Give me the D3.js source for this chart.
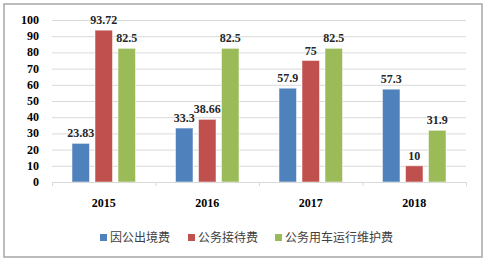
<!DOCTYPE html>
<html lang="zh">
<head>
  <meta charset="UTF-8">
  <title>三公经费</title>
  <style>
    body { margin: 0; background: #fff; }
  </style>
</head>
<body>
  <svg id="svg" width="486" height="262"></svg>

  <script src="https://d3js.org/d3.v7.min.js"></script>
  <script>
    const years = ['2015', '2016', '2017', '2018']
    const seriesNames = ['因公出境费', '公务接待费', '公务用车运行维护费']
    const travel = [23.83, 33.3, 57.9, 57.3]
    const reception = [93.72, 38.66, 75, 10]
    const vehicles = [82.5, 82.5, 82.5, 31.9]
    const yTicks = [0, 10, 20, 30, 40, 50, 60, 70, 80, 90, 100]
    const colors = ['#4F81BD', '#C0504D', '#9BBB59']

    const series = [travel, reception, vehicles]
    const serif = '"Liberation Serif", "Times New Roman", serif'

    const svg = d3.select('#svg')

    // outer frame
    svg.append('rect')
      .attr('x', 4).attr('y', 4)
      .attr('width', 478).attr('height', 253)
      .attr('fill', '#fff')
      .attr('stroke', '#a6a6a6')
      .attr('stroke-width', 1.5)

    const plotLeft = 52, plotRight = 466, plotTop = 20, plotBottom = 182

    const x = d3.scaleBand()
      .domain(years)
      .range([plotLeft, plotRight])
      .paddingInner(0)
      .paddingOuter(0)
    const inner = d3.scaleBand()
      .domain(d3.range(seriesNames.length))
      .range([20, x.bandwidth() - 20])
      .paddingInner(0.24)
    const y = d3.scaleLinear()
      .domain([0, 100])
      .range([plotBottom, plotTop])

    // grid
    svg.append('g')
      .selectAll('line')
      .data(yTicks.filter(d => d > 0))
      .enter()
      .append('line')
      .attr('x1', plotLeft).attr('x2', plotRight)
      .attr('y1', d => y(d) + 0.5).attr('y2', d => y(d) + 0.5)
      .attr('stroke', '#d9d9d9')
      .attr('stroke-width', 1)

    // y labels
    svg.append('g')
      .selectAll('text')
      .data(yTicks)
      .enter()
      .append('text')
      .attr('x', 39)
      .attr('y', d => y(d) + 4)
      .attr('text-anchor', 'end')
      .style('font-family', serif)
      .style('font-weight', 'bold')
      .style('font-size', '12px')
      .text(d => d)

    // bars
    const groups = svg.append('g')
      .selectAll('g')
      .data(years)
      .enter()
      .append('g')
      .attr('transform', d => `translate(${x(d)},0)`)

    groups.selectAll('rect')
      .data((d, i) => series.map((s, k) => ({ k, v: s[i] })))
      .enter()
      .append('rect')
      .attr('x', d => inner(d.k))
      .attr('y', d => y(d.v))
      .attr('width', inner.bandwidth())
      .attr('height', d => plotBottom - y(d.v))
      .attr('fill', d => colors[d.k])
      .attr('stroke', '#fff')
      .attr('stroke-opacity', 0.5)
      .attr('stroke-width', 1)

    groups.selectAll('text')
      .data((d, i) => series.map((s, k) => ({ k, v: s[i] })))
      .enter()
      .append('text')
      .attr('x', d => inner(d.k) + inner.bandwidth() / 2)
      .attr('y', d => y(d.v) - 6)
      .attr('text-anchor', 'middle')
      .style('font-family', serif)
      .style('font-weight', 'bold')
      .style('font-size', '12px')
      .style('fill', '#262626')
      .text(d => d.v)

    // x axis
    svg.append('line')
      .attr('x1', plotLeft).attr('x2', plotRight)
      .attr('y1', plotBottom + 0.5).attr('y2', plotBottom + 0.5)
      .attr('stroke', '#d9d9d9')
    svg.append('g')
      .selectAll('line')
      .data(years.concat(['end']))
      .enter()
      .append('line')
      .attr('x1', (d, i) => plotLeft + i * x.step() + 0.5)
      .attr('x2', (d, i) => plotLeft + i * x.step() + 0.5)
      .attr('y1', plotBottom).attr('y2', plotBottom + 4)
      .attr('stroke', '#d9d9d9')

    svg.append('g')
      .selectAll('text')
      .data(years)
      .enter()
      .append('text')
      .attr('x', d => x(d) + x.bandwidth() / 2)
      .attr('y', 207)
      .attr('text-anchor', 'middle')
      .style('font-family', serif)
      .style('font-weight', 'bold')
      .style('font-size', '12px')
      .text(d => d)

    // legend
    const legendX = [100, 188, 275]
    const legend = svg.append('g')
      .selectAll('g')
      .data(seriesNames)
      .enter()
      .append('g')
      .attr('transform', (d, i) => `translate(${legendX[i]},234)`)
    legend.append('rect')
      .attr('x', 0).attr('y', 0)
      .attr('width', 7).attr('height', 7)
      .attr('fill', (d, i) => colors[i])
    legend.append('text')
      .attr('x', 10)
      .attr('y', 8)
      .style('font-family', '"Noto Sans CJK SC", sans-serif')
      .style('font-size', '12px')
      .style('fill', '#404040')
      .text(d => d)
  </script>
</body>
</html>
